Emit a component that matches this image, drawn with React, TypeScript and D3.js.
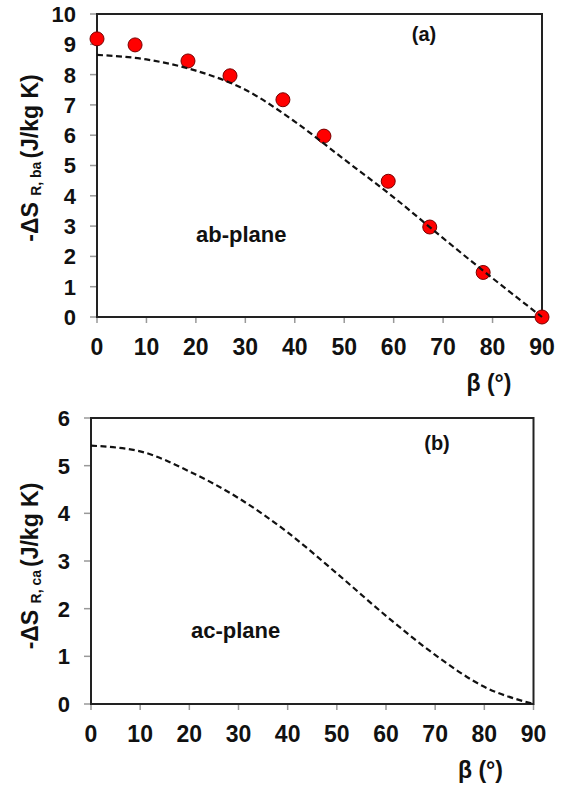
import React from 'react';
import * as d3 from 'd3';

// angle ticks shared by both panels
const betaTicks = [0, 10, 20, 30, 40, 50, 60, 70, 80, 90];

// (a) ab-plane: measured points and fitted curve
const abBeta = [0, 7.7, 18.4, 26.9, 37.6, 45.9, 58.9, 67.3, 78.1, 90];
const abMeasured = [9.18, 8.98, 8.45, 7.96, 7.17, 5.97, 4.48, 2.97, 1.47, 0];
const fitBeta = [0, 10, 20, 30, 40, 50, 60, 70, 80, 90];
const abFit = [8.65, 8.5, 8.13, 7.5, 6.45, 5.2, 3.95, 2.6, 1.28, 0];
const abTicks = [0, 1, 2, 3, 4, 5, 6, 7, 8, 9, 10];

// (b) ac-plane: fitted curve only
const acFit = [5.42, 5.3, 4.88, 4.32, 3.6, 2.74, 1.85, 1.03, 0.36, 0];
const acTicks = [0, 1, 2, 3, 4, 5, 6];

const font = 'Arial, "Liberation Sans", sans-serif';

type PanelProps = {
  left: number; right: number; top: number; bottom: number;
  yMax: number; yTicks: number[];
  fit: number[];
  points?: { x: number; y: number }[];
  tag: string; tagX: number; tagY: number;
  plane: string; planeX: number; planeY: number;
  sub: string; labelCenter: number;
};

const Panel = (p: PanelProps) => {
  const x = d3.scaleLinear().domain([0, 90]).range([p.left, p.right]);
  const y = d3.scaleLinear().domain([0, p.yMax]).range([p.bottom, p.top]);

  const line = d3
    .line<number>()
    .x((_, i) => x(fitBeta[i]))
    .y((d) => y(d))
    .curve(d3.curveMonotoneX);

  return (
    <g>
      {/* y ticks */}
      {p.yTicks.map((t) => (
        <g key={'y' + t}>
          <line x1={p.left - 7} x2={p.left} y1={y(t)} y2={y(t)} stroke="#999" strokeWidth={1.5} />
          <text x={p.left - 21} y={y(t)} dy="0.36em" textAnchor="end"
            fontFamily={font} fontWeight="bold" fontSize={22} fill="#111">{t}</text>
        </g>
      ))}
      {/* x ticks */}
      {betaTicks.map((t) => (
        <g key={'x' + t}>
          <line x1={x(t)} x2={x(t)} y1={p.bottom} y2={p.bottom + 6} stroke="#999" strokeWidth={1.5} />
          <text x={x(t)} y={p.bottom + 38} textAnchor="middle"
            fontFamily={font} fontWeight="bold" fontSize={23} fill="#111">{t}</text>
        </g>
      ))}

      <rect x={p.left} y={p.top} width={p.right - p.left} height={p.bottom - p.top}
        fill="none" stroke="#222" strokeWidth={2} />

      {p.points && p.points.map((d, i) => (
        <circle key={i} cx={x(d.x)} cy={y(d.y)} r={7} fill="#f00" stroke="#700" strokeWidth={1} />
      ))}

      <path d={line(p.fit) || ''} fill="none" stroke="#111" strokeWidth={2.2} strokeDasharray="6,3.5" />

      <text x={p.tagX} y={p.tagY} textAnchor="middle" fontFamily={font} fontWeight="bold" fontSize={20} fill="#111">{p.tag}</text>
      <text x={p.planeX} y={p.planeY} fontFamily={font} fontWeight="bold" fontSize={22} fill="#111">{p.plane}</text>

      {/* axis titles */}
      <text transform={`translate(38, ${p.labelCenter}) rotate(-90)`} textAnchor="middle"
        fontFamily={font} fontWeight="bold" fontSize={23} fill="#111">
        -ΔS <tspan fontSize={14} dy={3}>{p.sub}</tspan><tspan dx={3} dy={-3}>(J/kg K)</tspan>
      </text>
      <text x={p.right - 53} y={p.bottom + 74} textAnchor="middle"
        fontFamily={font} fontWeight="bold" fontSize={23} fill="#111">β (°)</text>
    </g>
  );
};

const App = () => {
  const abPoints = abBeta.map((b, i) => ({ x: b, y: abMeasured[i] }));
  return (
    <svg width={563} height={787} style={{ position: 'absolute', left: 0, top: 0, background: '#fff' }}>
      <rect width={563} height={787} fill="#fff" />
      <Panel left={97} right={542} top={14} bottom={317} yMax={10} yTicks={abTicks}
        fit={abFit} points={abPoints}
        tag="(a)" tagX={424} tagY={41} plane="ab-plane" planeX={196} planeY={242}
        sub="R, ba" labelCenter={158} />
      <Panel left={91} right={533.5} top={418} bottom={704} yMax={6} yTicks={acTicks}
        fit={acFit}
        tag="(b)" tagX={437} tagY={450} plane="ac-plane" planeX={191} planeY={638}
        sub="R, ca" labelCenter={566} />
    </svg>
  );
};

export default App;
